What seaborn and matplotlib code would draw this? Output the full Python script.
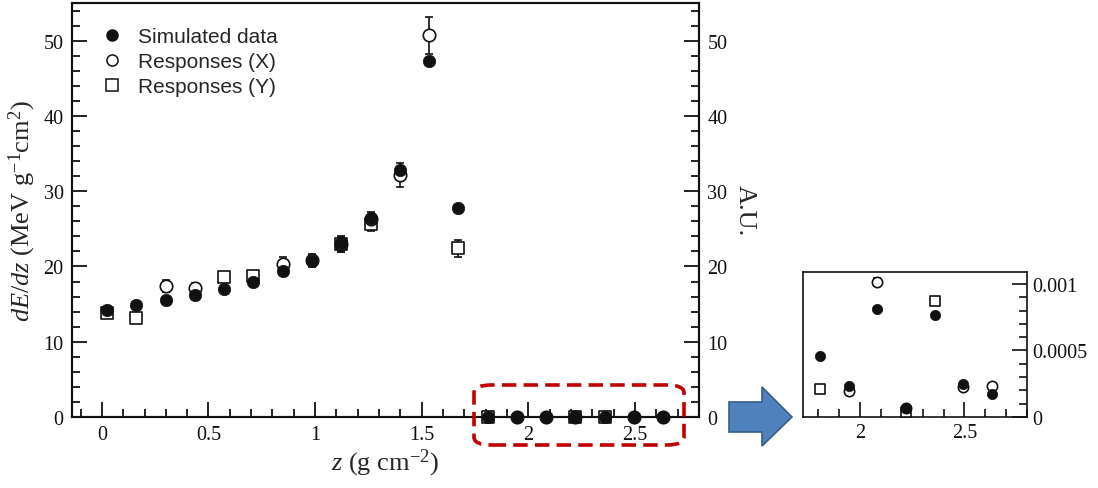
import numpy as np
import pandas as pd
import matplotlib
matplotlib.use("Agg")
import matplotlib.pyplot as plt
import seaborn as sns
from matplotlib.ticker import MultipleLocator, FuncFormatter
from matplotlib.lines import Line2D
from matplotlib.patches import FancyBboxPatch, Polygon

nan = np.nan

# ---- data ----
z = [0.025, 0.162, 0.299, 0.437, 0.574, 0.711, 0.848, 0.985, 1.123, 1.260,
     1.397, 1.534, 1.671, 1.809, 1.946, 2.083, 2.220, 2.357, 2.494, 2.632]
sim = [14.26, 14.88, 15.54, 16.2, 17.0, 17.97, 19.43, 20.75, 23.05, 26.5,
       32.8, 47.24, 27.8,
       0.000457, 0.000234, 0.000812, 0.000068, 0.000766, 0.000251, 0.000176]
resp_x = [nan, nan, 17.44, 17.17, nan, nan, 20.3, 20.8, 22.96, 26.3,
          32.1, 50.7, nan,
          nan, 0.000193, 0.001018, 0.00007, nan, 0.000224, 0.000231]
resp_x_err = [0, 0, 0.8, 0.6, 0, 0, 0.9, 0.9, 1.0, 0.9,
              1.6, 2.5, 0,
              0, 0, 0.00003, 0, 0, 0, 0]
resp_y = [13.77, 13.11, nan, nan, 18.54, 18.76, nan, nan, 22.96, 25.7,
          nan, nan, 22.4,
          0.000214, nan, nan, 0.000038, 0.000874, nan, nan]
resp_y_err = [0.3, 0.3, 0, 0, 0.6, 0.6, 0, 0, 1.1, 1.0,
              0, 0, 1.1,
              0, 0, 0, 0, 0, 0, 0]

labels = ["Simulated data", "Responses (X)", "Responses (Y)"]
main_yticks = [0, 10, 20, 30, 40, 50]
inset_yticks = [0, 0.0005, 0.001]

df = pd.DataFrame({"z": z, "sim": sim, "rx": resp_x, "rxe": resp_x_err,
                   "ry": resp_y, "rye": resp_y_err})

sns.set_style("ticks")
plt.rcParams["font.family"] = ["Liberation Serif", "DejaVu Serif"]
plt.rcParams["mathtext.fontset"] = "custom"
plt.rcParams["mathtext.rm"] = "Liberation Serif"
plt.rcParams["mathtext.it"] = "Liberation Serif:italic"
plt.rcParams["mathtext.default"] = "regular"

fig = plt.figure(figsize=(10.98, 4.89), dpi=100)
ax = fig.add_axes([72 / 1098, 71 / 489, 627 / 1098, 414 / 489])
axi = fig.add_axes([803 / 1098, 71 / 489, 224 / 1098, 145 / 489])

INK = "#111111"


def draw(a, size, clip):
    a.errorbar(df["z"], df["ry"], yerr=df["rye"], fmt="none", ecolor=INK,
               elinewidth=1.2, capsize=3, capthick=1.2, zorder=2, clip_on=clip)
    a.errorbar(df["z"], df["rx"], yerr=df["rxe"], fmt="none", ecolor=INK,
               elinewidth=1.2, capsize=3, capthick=1.2, zorder=2, clip_on=clip)
    sns.scatterplot(data=df, x="z", y="ry", ax=a, marker="s", s=size,
                    facecolor="white", edgecolor=INK, linewidth=1.2,
                    zorder=3, clip_on=clip, legend=False)
    sns.scatterplot(data=df, x="z", y="rx", ax=a, marker="o", s=size,
                    facecolor="white", edgecolor=INK, linewidth=1.2,
                    zorder=4, clip_on=clip, legend=False)
    sns.scatterplot(data=df, x="z", y="sim", ax=a, marker="o", s=size,
                    color=INK, edgecolor=INK, linewidth=0.5,
                    zorder=5, clip_on=clip, legend=False)


draw(ax, 80, False)
draw(axi, 55, True)

fmt = FuncFormatter(lambda v, p: "%g" % v)

# main axes
ax.set_xlim(-0.14, 2.80)
ax.set_ylim(0, 55)
ax.xaxis.set_major_locator(MultipleLocator(0.5))
ax.xaxis.set_minor_locator(MultipleLocator(0.1))
ax.yaxis.set_major_locator(MultipleLocator(10))
ax.yaxis.set_minor_locator(MultipleLocator(2))
ax.xaxis.set_major_formatter(fmt)
ax.set_yticks(main_yticks)
ax.tick_params(which="both", direction="in", top=False, right=False,
               labelsize=14.5, width=1.3, colors=INK, pad=6)
ax.tick_params(which="major", length=11)
ax.tick_params(which="minor", length=6)
for s in ax.spines.values():
    s.set_linewidth(1.5)
    s.set_color(INK)
ax.set_xlabel(r"$\mathit{z}$ (g cm$^{-2}$)", fontsize=19, labelpad=2)
ax.set_ylabel(r"$\mathit{dE/dz}$ (MeV g$^{-1}$cm$^{2}$)", fontsize=19, labelpad=4)

ax2 = ax.twinx()
ax2.set_ylim(0, 55)
ax2.set_yticks(main_yticks)
ax2.yaxis.set_minor_locator(MultipleLocator(2))
ax2.tick_params(which="both", direction="in", labelsize=14.5, width=1.3,
                colors=INK, pad=6)
ax2.tick_params(which="major", length=11)
ax2.tick_params(which="minor", length=6)
ax2.set_ylabel("A.U.", fontsize=19, rotation=-90, labelpad=20)
for s in ax2.spines.values():
    s.set_linewidth(1.5)
    s.set_color(INK)

# legend
handles = [
    Line2D([], [], marker="o", ls="none", ms=8, mfc=INK, mec=INK),
    Line2D([], [], marker="o", ls="none", ms=8, mfc="white", mec=INK, mew=1.1),
    Line2D([], [], marker="s", ls="none", ms=8, mfc="white", mec=INK, mew=1.1),
]
ax.legend(handles, labels, loc="upper left", bbox_to_anchor=(0.031, 0.966),
          frameon=False, handlelength=1.0, handletextpad=0.75, borderpad=0,
          labelspacing=0.28, prop={"family": "Liberation Sans", "size": 15})

# inset
axi.set_xlim(1.726, 2.80)
axi.set_ylim(0, 0.00109)
axi.xaxis.set_major_locator(MultipleLocator(0.5))
axi.xaxis.set_minor_locator(MultipleLocator(0.1))
axi.set_yticks(inset_yticks)
axi.yaxis.set_minor_locator(MultipleLocator(0.0001))
axi.xaxis.set_major_formatter(fmt)
axi.yaxis.set_major_formatter(fmt)
axi.yaxis.tick_right()
axi.tick_params(which="both", direction="in", left=False, top=False,
                labelsize=14.5, width=1.2, colors=INK, pad=4)
axi.tick_params(which="major", length=11)
axi.tick_params(which="minor", length=6)
axi.set_xlabel("")
axi.set_ylabel("")
for s in axi.spines.values():
    s.set_linewidth(1.2)
    s.set_color(INK)

# red dashed highlight box
box = FancyBboxPatch((474 / 1098, 43 / 489), 210 / 1098, 60 / 489,
                     boxstyle="round,pad=0,rounding_size=0.016",
                     transform=fig.transFigure, fill=False,
                     edgecolor="#C00000", linewidth=2.6,
                     linestyle=(0, (4, 2)), zorder=10)
fig.patches.append(box)

# blue arrow
pts = [(729, 403), (762, 403), (762, 388), (792, 418), (762, 447), (762, 433), (729, 433)]
arrow = Polygon([(x / 1098, 1 - y / 489) for x, y in pts], closed=True,
                transform=fig.transFigure, facecolor="#4F81BD",
                edgecolor="#385D8A", linewidth=1.2)
fig.patches.append(arrow)

fig.savefig("out.png", dpi=100)
